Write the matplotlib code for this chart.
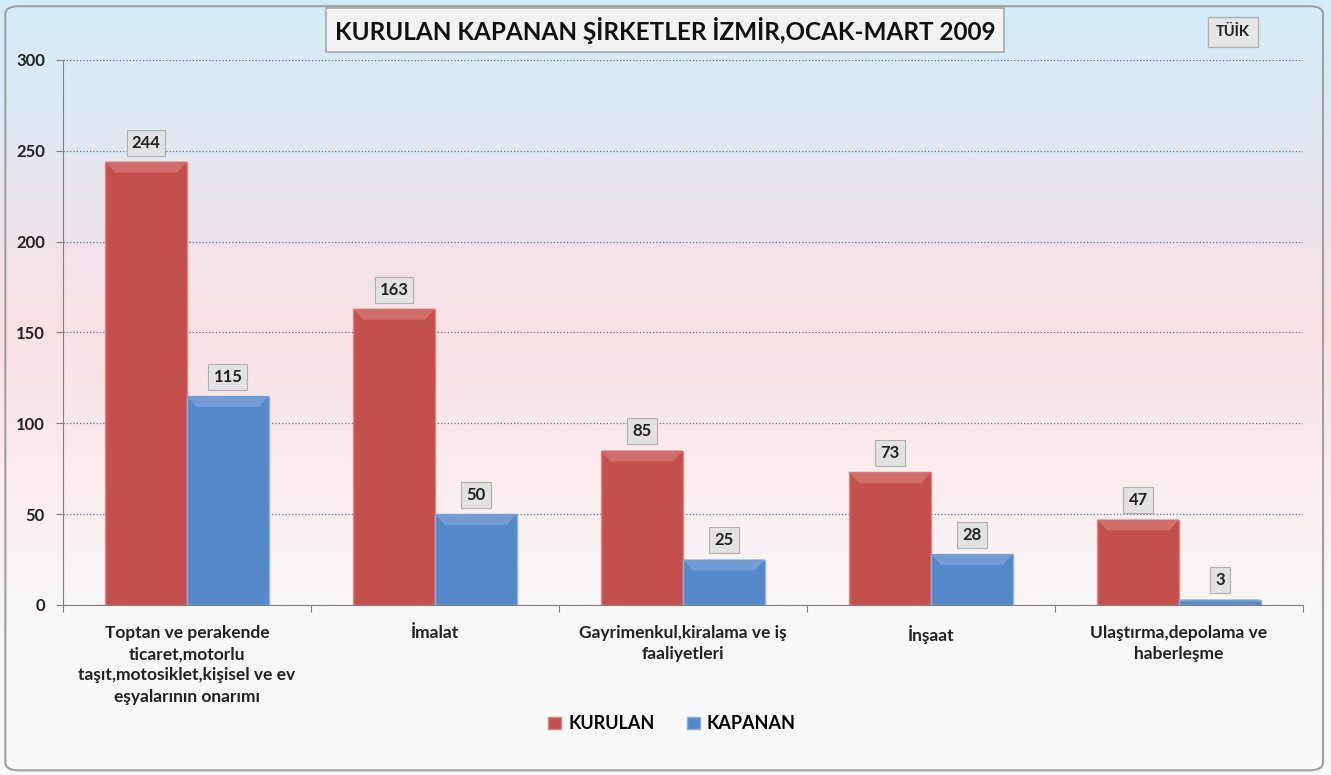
import numpy as np
import matplotlib.pyplot as plt
from matplotlib.patches import FancyBboxPatch, Polygon

plt.rcParams['font.family'] = ['Lato', 'DejaVu Sans']

kategoriler = ['Toptan ve perakende\nticaret,motorlu\ntaşıt,motosiklet,kişisel ve ev\neşyalarının onarımı',
               'İmalat',
               'Gayrimenkul,kiralama ve iş\nfaaliyetleri',
               'İnşaat',
               'Ulaştırma,depolama ve\nhaberleşme']
kurulan = [244, 163, 85, 73, 47]
kapanan = [115, 50, 25, 28, 3]
yticks = [0, 50, 100, 150, 200, 250, 300]

fig = plt.figure(figsize=(13.31, 7.75), dpi=100)

# arka plan gradyani
bg = fig.add_axes([0, 0, 1, 1], zorder=0)
top = np.array([0.82, 0.93, 0.98])
mid = np.array([0.98, 0.88, 0.90])
bot = np.array([0.975, 0.975, 0.975])
n = 200
t = np.linspace(0, 1, n)[:, None]
grad = np.where(t < 0.42, top + (mid - top) * (t / 0.42), mid + (bot - mid) * ((t - 0.42) / 0.4).clip(0, 1))
bg.imshow(grad[:, None, :], aspect='auto', extent=[0, 1, 0, 1], origin='upper')
bg.add_patch(FancyBboxPatch((0.004, 0.006), 0.99, 0.986, boxstyle='round,pad=0,rounding_size=0.01',
                            fill=False, edgecolor='#A0A0A0', lw=1.5, transform=bg.transAxes))
bg.set_xlim(0, 1)
bg.set_ylim(0, 1)
bg.axis('off')

ax = fig.add_axes([0.0473, 0.2194, 0.9317, 0.7032], zorder=1)
ax.patch.set_alpha(0)

x = np.arange(len(kategoriler))
w = 0.33
b1 = ax.bar(x - w / 2, kurulan, w, color='#C4504D', edgecolor='#D98583', lw=1, label='KURULAN', zorder=3)
b2 = ax.bar(x + w / 2, kapanan, w, color='#5588C8', edgecolor='#8DB0DC', lw=1, label='KAPANAN', zorder=3)

# ust kenar kabartmasi
for bars, renk in [(b1, '#D06E6B'), (b2, '#729CD3')]:
    for r in bars:
        x0, h, bw = r.get_x(), r.get_height(), r.get_width()
        dy = min(6, h * 0.4)
        dx = bw * 0.12
        ax.add_patch(Polygon([(x0, h), (x0 + bw, h), (x0 + bw - dx, h - dy), (x0 + dx, h - dy)],
                             closed=True, facecolor=renk, edgecolor='none', zorder=3.5))

box = dict(boxstyle='square,pad=0.3', facecolor='#E2E2E2', edgecolor='#AFAFAF', lw=0.8)
for bars, vals in [(b1, kurulan), (b2, kapanan)]:
    for r, v in zip(bars, vals):
        ax.annotate(str(v), (r.get_x() + r.get_width() / 2, v), xytext=(0, 8), textcoords='offset points',
                    ha='center', va='bottom', fontsize=12, fontweight='bold', color='#222222', bbox=box, zorder=4)

ax.set_ylim(0, 300)
ax.set_xlim(-0.5, len(kategoriler) - 0.5)
ax.set_yticks(yticks)
ax.set_yticklabels([str(v) for v in yticks], fontsize=12, fontweight='bold', color='#222222')
ax.yaxis.grid(True, linestyle=':', color='#5070A0', lw=0.9, zorder=0)
ax.tick_params(axis='y', length=5, color='#808080', pad=8)

ax.set_xticks(np.arange(len(kategoriler) + 1) - 0.5)
ax.set_xticklabels([''] * (len(kategoriler) + 1))
ax.tick_params(axis='x', length=5, color='#808080', direction='out')
for i, k in enumerate(kategoriler):
    ax.text(i, -11, k, ha='center', va='top', fontsize=12.5, fontweight='bold', color='#222222', linespacing=1.4)

for s in ['top', 'right']:
    ax.spines[s].set_visible(False)
ax.spines['left'].set_color('#808080')
ax.spines['bottom'].set_color('#808080')

fig.legend(handles=[b1, b2], loc='center', bbox_to_anchor=(0.505, 0.066), ncol=2, frameon=False,
           handlelength=0.7, handleheight=0.7, columnspacing=1.8, handletextpad=0.4,
           prop={'weight': 'bold', 'size': 13})

# baslik kutusu
fig.text(0.4996, 0.961, 'KURULAN KAPANAN ŞİRKETLER İZMİR,OCAK-MART 2009', ha='center', va='center',
         fontsize=17.5, fontweight='bold', color='#111111',
         bbox=dict(boxstyle='square,pad=0.35', facecolor='#F2F2F2', edgecolor='#A8A8A8', lw=1.2), zorder=5)
fig.text(0.9265, 0.959, 'TÜİK', ha='center', va='center', fontsize=10.5, fontweight='bold', color='#222222',
         bbox=dict(boxstyle='square,pad=0.55', facecolor='#E6E6E6', edgecolor='#B0B0B0', lw=1), zorder=5)

fig.savefig('out.png', dpi=100)
